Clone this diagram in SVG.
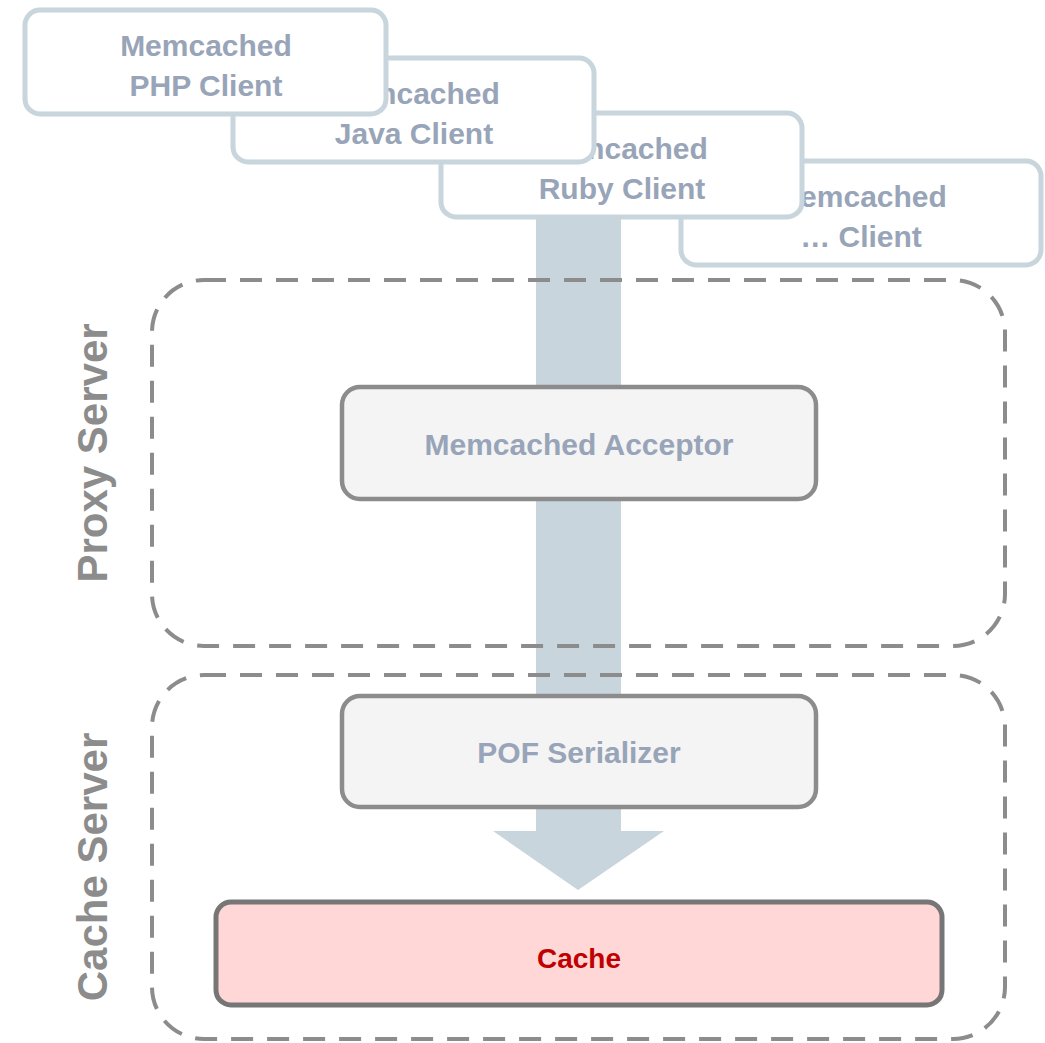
<svg xmlns="http://www.w3.org/2000/svg" width="1045" height="1043" viewBox="0 0 1045 1043">
<style>
.client{fill:#ffffff;stroke:#c8d5dc;stroke-width:5}
.ct{font-family:"Liberation Sans",Arial,sans-serif;font-weight:bold;font-size:30px;fill:#98a4b8;text-anchor:middle}
.box{fill:#f4f4f4;stroke:#8c8c8c;stroke-width:4.5}
.cont{fill:none;stroke:#8c8c8c;stroke-width:4;stroke-dasharray:22 14}
.lbl{font-family:"Liberation Sans",Arial,sans-serif;font-weight:bold;font-size:42px;fill:#8c8c8c;text-anchor:middle}
</style>
<rect width="1045" height="1043" fill="#ffffff"/>
<g id="client-other">
<rect class="client" x="681" y="161" width="360" height="104" rx="15"/>
<text class="ct" x="861" y="207">Memcached</text>
<text class="ct" x="861" y="247">… Client</text>
</g>
<g id="connectors">
<polygon points="536,217 621,217 621,831 664,831 578,890 493,831 536,831" fill="#c8d5dc"/>
</g>
<g id="client-ruby">
<rect class="client" x="441" y="113" width="361" height="104" rx="15"/>
<text class="ct" x="622" y="159">Memcached</text>
<text class="ct" x="622" y="199">Ruby Client</text>
</g>
<g id="client-java">
<rect class="client" x="233" y="58" width="361" height="104" rx="15"/>
<text class="ct" x="414" y="104">Memcached</text>
<text class="ct" x="414" y="144">Java Client</text>
</g>
<g id="client-php">
<rect class="client" x="25" y="10" width="361" height="104" rx="15"/>
<text class="ct" x="206" y="56">Memcached</text>
<text class="ct" x="206" y="96">PHP Client</text>
</g>
<g id="proxy-server">
<rect class="cont" x="152" y="280" width="853" height="366" rx="52"/>
<text class="lbl" transform="translate(107,453) rotate(-90)">Proxy Server</text>
</g>
<g id="cache-server">
<rect class="cont" x="152" y="675" width="853" height="364" rx="52"/>
<text class="lbl" transform="translate(107,867) rotate(-90)">Cache Server</text>
</g>
<g id="memcached-acceptor">
<rect class="box" x="342" y="387" width="474" height="112" rx="18"/>
<text class="ct" x="579" y="455">Memcached Acceptor</text>
</g>
<g id="pof-serializer">
<rect class="box" x="342" y="696" width="474" height="111" rx="18"/>
<text class="ct" x="579" y="763">POF Serializer</text>
</g>
<g id="cache">
<rect x="216" y="902" width="726" height="103" rx="15" fill="#ffd7d7" stroke="#767676" stroke-width="5"/>
<text class="ct" x="579" y="968" style="fill:#c00000;font-size:28px">Cache</text>
</g>
</svg>
